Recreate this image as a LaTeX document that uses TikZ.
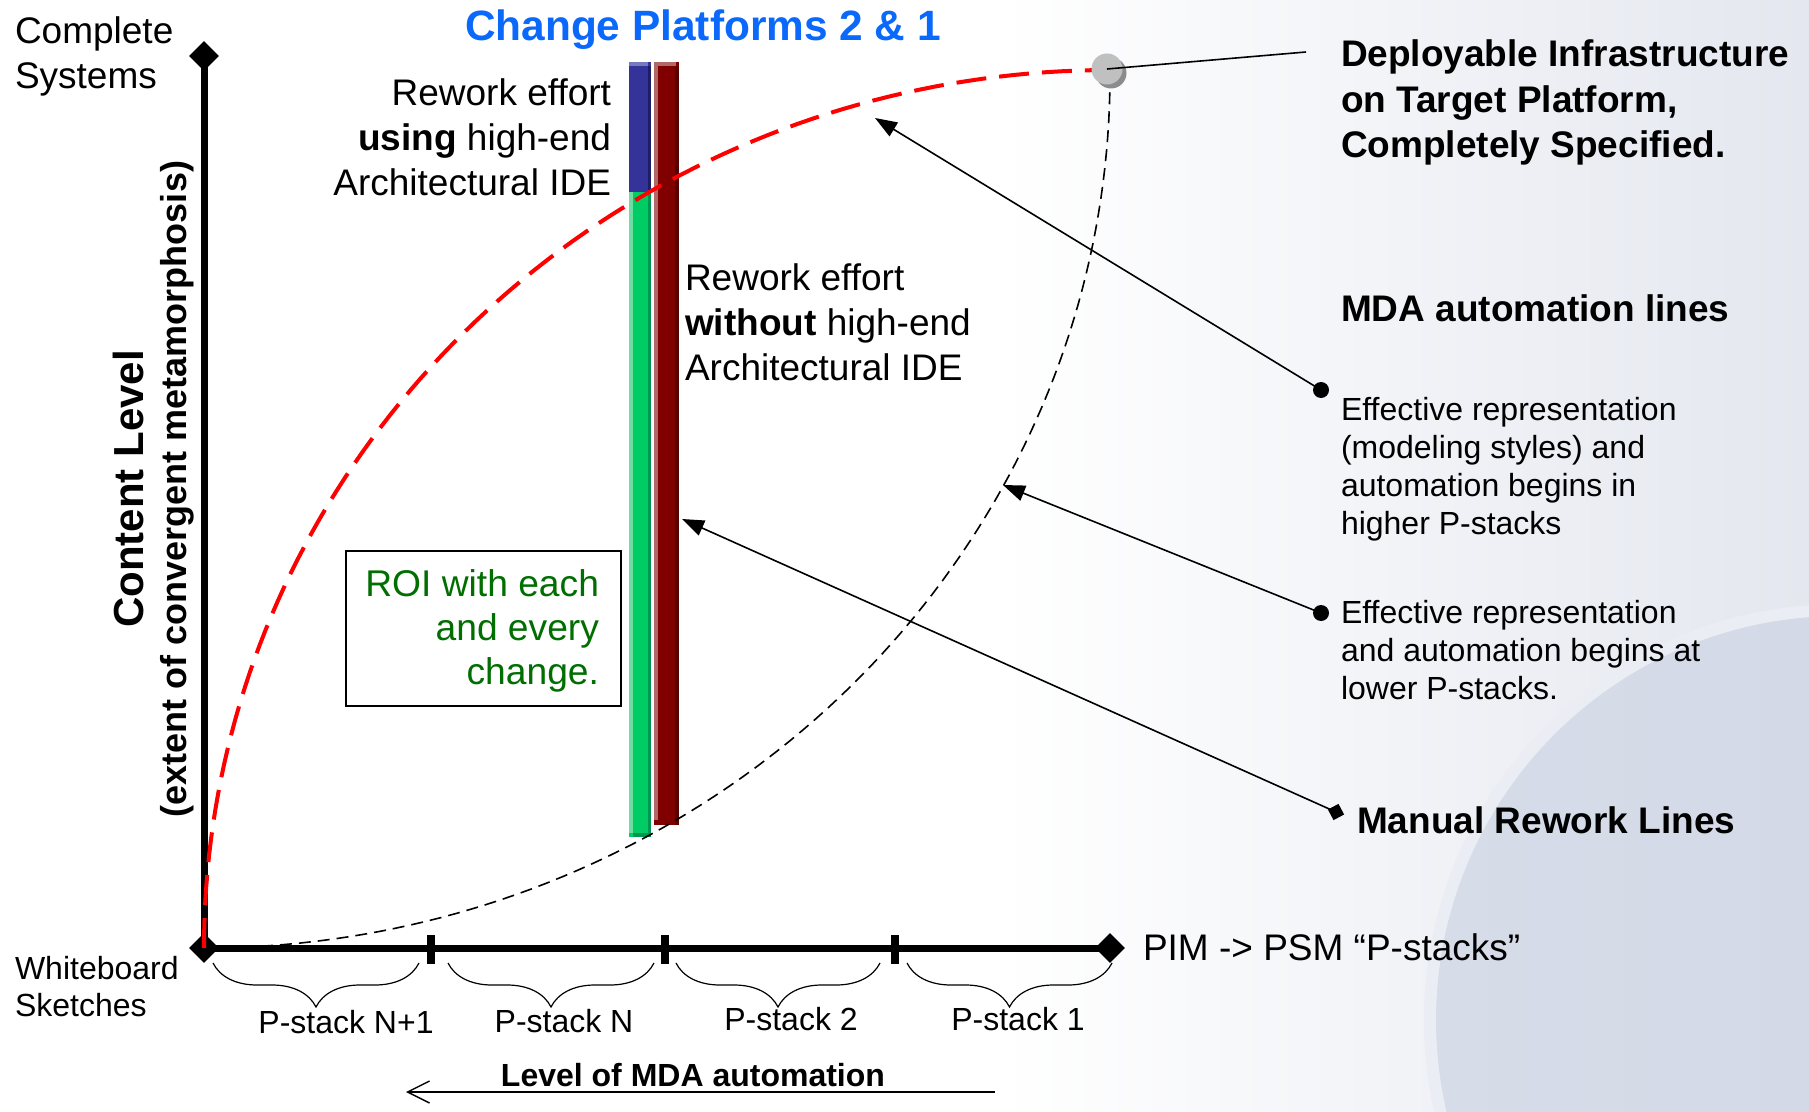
\documentclass[tikz,border=0pt]{standalone}
\usepackage{fontspec}
\setmainfont{Liberation Sans}
\usetikzlibrary{shapes.geometric, arrows.meta, decorations.pathreplacing}
\definecolor{titleblue}{RGB}{10,105,250}
\definecolor{roigreen}{RGB}{0,110,0}
\definecolor{bgA}{RGB}{228,231,239}
\definecolor{bgB}{RGB}{206,213,228}
\definecolor{bgRing}{RGB}{234,237,244}
\definecolor{barblue}{RGB}{51,51,153}
\definecolor{barbluelt}{RGB}{120,120,190}
\definecolor{barbluedk}{RGB}{30,30,100}
\definecolor{bargreen}{RGB}{0,204,102}
\definecolor{bargreenlt}{RGB}{110,222,160}
\definecolor{bargreendk}{RGB}{0,150,80}
\definecolor{barred}{RGB}{128,0,0}
\definecolor{barredlt}{RGB}{176,104,104}
\definecolor{barreddk}{RGB}{88,0,0}
\definecolor{ballgray}{RGB}{192,192,192}
\definecolor{balldark}{RGB}{140,140,140}
\begin{document}
\begin{tikzpicture}[x=0.5pt,y=-0.5pt,
  lbl/.style={inner sep=0pt, outer sep=0pt},
  big/.style={font=\fontsize{18.5}{22.5}\selectfont},
  bigbold/.style={font=\bfseries\fontsize{18.5}{22.75}\selectfont},
  mid/.style={font=\fontsize{16}{19}\selectfont},
  small/.style={font=\fontsize{16}{18.5}\selectfont},
  axisline/.style={line width=3.5pt},
  axisend/.style={diamond, fill=black, inner sep=0pt, minimum size=15pt},
  tick/.style={line width=4pt},
  bullet/.style={circle, fill=black, inner sep=0pt, minimum size=8pt},
  conn/.style={line width=0.8pt, -{Triangle[length=11pt,width=8pt]}},
  pbrace/.style={line width=0.6pt, decorate, decoration={brace, mirror, amplitude=22pt}}
]
\useasboundingbox (0,0) rectangle (1809,1112);
% background
\begin{scope}
  \clip (0,0) rectangle (1809,1112);
  \fill[white] (0,0) rectangle (1809,1112);
  \shade[left color=white, right color=bgA] (1000,0) rectangle (1809,1112);
  \fill[bgB, opacity=0.75] (1840,1020) circle (205pt);
  \draw[bgRing, line width=6pt] (1840,1020) circle (205pt);
\end{scope}

% bars
\fill[barblue] (629,62) rectangle (651,192);
\fill[barbluelt] (629,62) rectangle (648,66);
\fill[barbluedk] (648,66) rectangle (651,192);
\fill[bargreen] (629,192) rectangle (651,837);
\fill[bargreenlt] (629,192) rectangle (633,833);
\fill[bargreendk] (648,192) rectangle (651,837);
\fill[bargreendk] (633,833) rectangle (651,837);
\fill[barred] (654,62) rectangle (679,825);
\fill[barredlt] (654,62) rectangle (676,66);
\fill[barredlt] (654,66) rectangle (658,820);
\fill[barreddk] (675,66) rectangle (679,825);

% axis ends
\node[axisend] (dorig) at (204,948) {};
\node[axisend] (dtop) at (204,56) {};
\node[axisend] (dright) at (1110,948) {};
\draw[axisline] (dorig.center) -- (dtop.center);
\draw[axisline] (dorig.center) -- (dright.center);
\draw[tick] (431,935) -- (431,964);
\draw[tick] (665,935) -- (665,964);
\draw[tick] (895,935) -- (895,964);

% curves
\draw[line width=0.8pt, dash pattern=on 6pt off 3.5pt]
  plot[domain=90:0, samples=90] ({204+906*cos(\x)}, {75+873*sin(\x)});
\draw[red, line width=2pt, dash pattern=on 15pt off 6.5pt]
  plot[domain=180:270, samples=90] ({1110+906*cos(\x)}, {948+878*sin(\x)});

% ball
\fill[balldark] (1111,73) circle (7.75pt);
\node[circle, fill=ballgray, inner sep=0pt, minimum size=15.5pt] (ball) at (1107,69) {};

% braces
\draw[pbrace] (213,963) -- (419,963);
\draw[pbrace] (448,963) -- (654,963);
\draw[pbrace] (676,963) -- (880,963);
\draw[pbrace] (907,963) -- (1112,963);

% texts
\node[lbl, big, anchor=north west, align=left] (complete) at (15,17) {Complete\\Systems};
\node[lbl, anchor=base, text=titleblue, font=\bfseries\fontsize{21.2}{24}\selectfont] (title) at (703,41) {Change Platforms 2 \& 1};
\node[lbl, big, anchor=north east, align=right] (rwusing) at (611,79) {Rework effort\\\textbf{using} high-end\\Architectural IDE};
\node[lbl, big, anchor=north west, align=left] (rwwithout) at (685,264) {Rework effort\\\textbf{without} high-end\\Architectural IDE};
\node[lbl, bigbold, anchor=north west, align=left] (deploy) at (1341,40) {Deployable Infrastructure\\on Target Platform,\\Completely Specified.};
\node[lbl, bigbold, anchor=base west] (mdalines) at (1341,322) {MDA automation lines};
\node[lbl, mid, anchor=north west, align=left] (eff1) at (1341,397) {Effective representation\\(modeling styles) and\\automation begins in\\higher P-stacks};
\node[lbl, mid, anchor=north west, align=left] (eff2) at (1341,600) {Effective representation\\and automation begins at\\lower P-stacks.};
\node[lbl, bigbold, anchor=base west] (manual) at (1357,833) {Manual Rework Lines};
\node[lbl, big, anchor=base west] (pim) at (1143,960) {PIM -> PSM “P-stacks”};
\node[lbl, small, anchor=north west, align=left] (white) at (15,956) {Whiteboard\\Sketches};
\node[lbl, small, anchor=base] (ps4) at (346,1033) {P-stack N+1};
\node[lbl, small, anchor=base] (ps3) at (564,1032) {P-stack N};
\node[lbl, small, anchor=base] (ps2) at (791,1030) {P-stack 2};
\node[lbl, small, anchor=base] (ps1) at (1018,1030) {P-stack 1};
\node[lbl, anchor=base, font=\bfseries\fontsize{16}{19}\selectfont] (level) at (693,1086) {Level of MDA automation};
\node[lbl, rotate=90, font=\bfseries\fontsize{21}{24}\selectfont] (content) at (128,489) {Content Level};
\node[lbl, rotate=90, font=\bfseries\fontsize{18}{21}\selectfont] (extent) at (177,489) {(extent of convergent metamorphosis)};

% ROI box
\node[draw=black, line width=0.75pt, inner sep=0pt, minimum width=137.5pt, minimum height=77.5pt, anchor=north west] (roibox) at (345,550) {};
\node[lbl, anchor=north east, align=right, text=roigreen, font=\fontsize{18.6}{22}\selectfont] (roi) at (599,570) {ROI with each\\and every\\change.};

% connectors
\coordinate (depend) at (1306,52);
\draw[line width=0.8pt] (ball.center) -- (depend);
\node[bullet] (d1) at (1321,390) {};
\node[bullet] (d2) at (1321,613) {};
\node[rectangle, fill=black, inner sep=0pt, minimum size=6pt, rotate=28] (sq) at (1336,812) {};
\coordinate (t1) at (875,118);
\coordinate (t2) at (1003,485);
\coordinate (t3) at (682,519);
\draw[conn] (d1.center) -- (t1);
\draw[conn] (d2.center) -- (t2);
\draw[conn] (sq.center) -- (t3);
\coordinate (la) at (995,1092);
\coordinate (lb) at (406,1092);
\draw[line width=0.7pt, -{Straight Barb[length=11pt,width=11pt]}] (la) -- (lb);
\end{tikzpicture}
\end{document}
